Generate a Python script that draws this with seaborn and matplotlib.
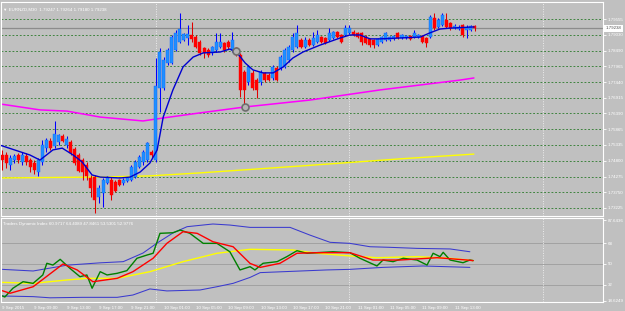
import matplotlib
matplotlib.use("Agg")
import matplotlib.pyplot as plt
import matplotlib.transforms as mtransforms
import numpy as np
import seaborn as sns

sns.set_style("white")
plt.rcParams["font.family"] = ["Liberation Sans", "DejaVu Sans"]

# ---------------- data ----------------
open_ = [1.7500,1.7500,1.7466,1.7483,1.7500,1.7477,1.7497,1.7483,1.7473,1.7443,
         1.7477,1.7523,1.7547,1.7530,1.7544,1.7564,1.7533,1.7544,1.7520,1.7500,
         1.7483,1.7466,1.7423,1.7426,1.7359,1.7373,1.7406,1.7416,1.7410,1.7416,
         1.7406,1.7413,1.7416,1.7426,1.7460,1.7477,1.7483,1.7510,1.7483,1.7724,
         1.7724,1.7808,1.7808,1.7852,1.7879,1.7885,1.7892,1.7902,1.7895,1.7879,
         1.7858,1.7852,1.7842,1.7852,1.7862,1.7875,1.7879,1.7852,1.7858,1.7835,
         1.7778,1.7745,1.7775,1.7751,1.7745,1.7775,1.7768,1.7758,1.7791,1.7791,
         1.7795,1.7818,1.7852,1.7862,1.7885,1.7862,1.7885,1.7868,1.7879,1.7895,
         1.7892,1.7885,1.7892,1.7912,1.7902,1.7902,1.7909,1.7912,1.7909,1.7909,
         1.7895,1.7889,1.7885,1.7868,1.7879,1.7885,1.7885,1.7889,1.7909,1.7892,
         1.7892,1.7899,1.7895,1.7895,1.7899,1.7892,1.7895,1.7959,1.7929,1.7935,
         1.7952,1.7942,1.7925,1.7922,1.7935,1.7919,1.7919,1.7932]
high = [1.7517,1.7510,1.7500,1.7503,1.7507,1.7510,1.7507,1.7490,1.7483,1.7490,
        1.7550,1.7557,1.7557,1.7614,1.7570,1.7570,1.7564,1.7550,1.7527,1.7507,
        1.7490,1.7477,1.7433,1.7433,1.7399,1.7423,1.7430,1.7426,1.7416,1.7420,
        1.7423,1.7426,1.7466,1.7483,1.7500,1.7517,1.7544,1.7517,1.7825,1.7858,
        1.7828,1.7858,1.7902,1.7919,1.7976,1.7909,1.7935,1.7946,1.7902,1.7885,
        1.7862,1.7858,1.7865,1.7909,1.7909,1.7879,1.7885,1.7912,1.7862,1.7842,
        1.7785,1.7801,1.7785,1.7758,1.7785,1.7778,1.7775,1.7801,1.7798,1.7835,
        1.7858,1.7868,1.7909,1.7935,1.7892,1.7895,1.7892,1.7912,1.7919,1.7899,
        1.7895,1.7925,1.7915,1.7915,1.7905,1.7935,1.7935,1.7919,1.7912,1.7912,
        1.7902,1.7892,1.7889,1.7892,1.7899,1.7912,1.7899,1.7902,1.7912,1.7905,
        1.7902,1.7902,1.7919,1.7905,1.7902,1.7895,1.7969,1.7976,1.7959,1.7976,
        1.7976,1.7946,1.7939,1.7935,1.7939,1.7935,1.7935,1.7935]
low = [1.7450,1.7456,1.7450,1.7473,1.7473,1.7466,1.7466,1.7443,1.7436,1.7430,
       1.7466,1.7510,1.7517,1.7523,1.7533,1.7544,1.7523,1.7500,1.7466,1.7443,
       1.7416,1.7416,1.7359,1.7306,1.7339,1.7326,1.7403,1.7349,1.7376,1.7396,
       1.7399,1.7410,1.7413,1.7423,1.7456,1.7466,1.7477,1.7490,1.7477,1.7644,
       1.7718,1.7801,1.7805,1.7848,1.7875,1.7882,1.7868,1.7879,1.7858,1.7835,
       1.7825,1.7828,1.7835,1.7845,1.7858,1.7845,1.7855,1.7845,1.7832,1.7694,
       1.7661,1.7734,1.7718,1.7691,1.7734,1.7745,1.7748,1.7751,1.7748,1.7785,
       1.7791,1.7812,1.7845,1.7858,1.7858,1.7858,1.7865,1.7865,1.7875,1.7875,
       1.7872,1.7882,1.7889,1.7892,1.7875,1.7899,1.7905,1.7899,1.7892,1.7868,
       1.7872,1.7862,1.7858,1.7865,1.7875,1.7882,1.7882,1.7885,1.7889,1.7889,
       1.7889,1.7885,1.7892,1.7892,1.7875,1.7862,1.7892,1.7919,1.7925,1.7932,
       1.7925,1.7919,1.7922,1.7919,1.7895,1.7892,1.7915,1.7915]
close = [1.7483,1.7473,1.7490,1.7497,1.7483,1.7500,1.7477,1.7460,1.7450,1.7483,
         1.7533,1.7550,1.7523,1.7570,1.7567,1.7547,1.7554,1.7507,1.7473,1.7446,
         1.7443,1.7430,1.7389,1.7349,1.7389,1.7416,1.7426,1.7366,1.7379,1.7399,
         1.7416,1.7423,1.7460,1.7477,1.7493,1.7510,1.7540,1.7500,1.7731,1.7845,
         1.7818,1.7852,1.7895,1.7909,1.7922,1.7905,1.7905,1.7889,1.7862,1.7842,
         1.7842,1.7835,1.7862,1.7879,1.7879,1.7852,1.7862,1.7885,1.7835,1.7718,
         1.7718,1.7795,1.7724,1.7718,1.7778,1.7751,1.7751,1.7795,1.7751,1.7828,
         1.7852,1.7862,1.7895,1.7909,1.7862,1.7885,1.7868,1.7892,1.7902,1.7879,
         1.7875,1.7909,1.7912,1.7895,1.7879,1.7925,1.7925,1.7902,1.7895,1.7879,
         1.7875,1.7868,1.7868,1.7889,1.7895,1.7909,1.7895,1.7899,1.7892,1.7902,
         1.7899,1.7889,1.7909,1.7902,1.7879,1.7875,1.7962,1.7925,1.7952,1.7969,
         1.7929,1.7925,1.7932,1.7929,1.7902,1.7925,1.7932,1.7925]

# moving averages on the price panel (bar index, price)
ma_fast_bar = [-0.5,6.9,9.4,12.6,14.9,17.6,19.8,22.3,24.3,29.2,31.7,34.2,36.6,38.4,39.9,
               42.3,44.8,47.3,49.8,54.0,56.4,58.2,60.2,62.1,64.6,67.1,69.6,72.0,74.5,
               78.7,83.7,86.1,88.6,91.1,93.6,98.5,103.5,105.9,108.4,110.9,116.8]
ma_fast = [1.7533,1.7500,1.7483,1.7517,1.7523,1.7500,1.7477,1.7433,1.7426,1.7423,
           1.7426,1.7443,1.7473,1.7517,1.7627,1.7718,1.7795,1.7828,1.7842,1.7845,
           1.7855,1.7842,1.7808,1.7785,1.7775,1.7775,1.7795,1.7825,1.7845,1.7868,
           1.7892,1.7902,1.7902,1.7889,1.7889,1.7892,1.7895,1.7909,1.7922,1.7925,1.7929]
ma_mid_bar = [-0.5,9.4,16.1,24.3,34.9,39.9,49.0,60.2,76.2,93.6,113.4,116.8]
ma_mid = [1.7671,1.7651,1.7647,1.7627,1.7614,1.7624,1.7641,1.7661,1.7684,1.7718,1.7751,1.7758]
ma_slow_bar = [-0.5,24.3,36.6,49.0,73.8,98.5,116.8]
ma_slow = [1.7423,1.7426,1.7430,1.7440,1.7463,1.7487,1.7503]
marker_bar = [57.8,60.2]
marker_price = [1.7848,1.7662]
last_price = 1.79238

price_ticks = [1.79555,1.79030,1.78490,1.77965,1.77440,1.76915,1.76390,
               1.75865,1.75335,1.74800,1.74275,1.73750,1.73225]
time_labels = ["9 Sep 2015","9 Sep 09:00","9 Sep 13:00","9 Sep 17:00","9 Sep 21:00",
               "10 Sep 01:00","10 Sep 05:00","10 Sep 09:00","10 Sep 13:00","10 Sep 17:00",
               "10 Sep 21:00","11 Sep 01:00","11 Sep 05:00","11 Sep 09:00","11 Sep 13:00"]
separator_bars = [38, 86, 134]

# Traders Dynamic Index (bar index, value)
tdi_up_bar = [-0.5,7.7,16.1,24.3,30.0,34.9,38.4,42.3,45.8,52.2,56.4,61.4,71.3,76.2,81.2,86.1,91.1,96.0,102.7,110.9,115.8]
tdi_up = [45.5,44.0,49.0,51.0,52.0,59.4,68.0,76.6,82.0,84.3,83.4,81.4,81.4,74.8,68.6,67.7,64.8,64.3,63.4,62.9,60.5]
tdi_lo_bar = [-0.5,7.7,11.9,20.0,28.5,32.4,36.6,40.8,49.0,53.2,57.2,61.4,63.9,80.4,86.1,94.3,104.2,115.8]
tdi_lo = [22.6,22.0,21.0,21.4,21.4,23.4,28.6,26.9,27.7,30.5,33.4,38.5,42.6,44.9,45.4,47.1,48.3,47.1]
tdi_base_bar = [-0.5,7.7,16.1,21.0,28.5,36.6,44.8,53.2,61.4,72.0,78.0,86.1,92.8,102.7,110.9,116.6]
tdi_base = [34.3,33.4,36.3,37.7,37.7,43.4,52.0,59.2,62.6,62.0,59.2,56.9,55.4,56.3,54.9,52.9]
tdi_sig_bar = [-0.5,2.0,7.7,15.1,18.6,22.5,28.5,32.4,37.4,40.8,44.8,48.3,52.2,57.2,61.4,63.9,
               68.8,73.0,78.0,86.1,91.8,98.5,107.7,115.1,116.6]
tdi_sig = [27.7,24.9,30.5,50.0,44.9,34.8,37.7,43.4,54.9,67.7,77.7,76.3,69.1,64.8,50.5,47.1,
           50.6,59.2,59.7,59.7,53.4,53.4,55.4,53.4,52.9]
tdi_rsi_bar = [-0.5,0.7,2.7,5.2,7.7,10.1,11.1,12.6,14.4,16.8,19.3,21.0,22.3,24.3,26.0,28.5,
               30.9,33.4,35.9,37.4,39.1,42.3,44.1,46.5,49.8,53.2,56.4,58.9,61.4,62.6,64.6,
               68.1,70.5,73.0,75.5,81.9,86.1,88.6,92.8,94.3,96.8,99.3,102.7,105.2,106.7,
               108.4,109.2,110.9,114.1,115.8,116.6]
tdi_rsi = [23.4,21.7,29.2,34.8,33.4,40.6,50.6,49.1,54.0,46.3,39.1,40.6,29.2,43.4,40.6,42.0,
           44.3,54.9,57.7,59.2,76.3,76.8,79.1,76.3,67.7,67.7,60.5,44.9,47.7,44.9,50.6,
           52.0,56.3,61.4,59.2,60.5,59.7,54.9,48.3,53.4,52.0,54.9,53.4,49.1,59.2,
           56.3,60.0,53.4,51.1,53.4,52.9]
tdi_levels = [68, 50, 32]
tdi_ticks = [87.6436, 68, 50, 32, 18.6249]
tdi_tick_labels = ["87.6436", "68", "50", "32", "18.6249"]

# ---------------- figure ----------------
BG = "#C0C0C0"
W, H = 625, 311
fig = plt.figure(figsize=(W / 100, H / 100), dpi=100, facecolor=BG)
ax = fig.add_axes([1 / W, 1 - 216 / H, 602 / W, 214 / H])
ax2 = fig.add_axes([1 / W, 1 - 302 / H, 602 / W, 84 / H], sharex=ax)
for a in (ax, ax2):
    a.set_facecolor(BG)
    for s in a.spines.values():
        s.set_color("white")
        s.set_linewidth(0.8)

ax.set_xlim(-0.25, 148.75)
ax.set_ylim(1.72956, 1.80125)
ax2.set_ylim(17.4, 89.45)

# grid
for p in price_ticks:
    ax.axhline(p, color="#2A7A2A", lw=0.6, ls=(0, (2.2, 2.2)), zorder=1)
for v in tdi_levels:
    ax2.axhline(v, color="#7A7A7A", lw=0.6, ls=(0, (1.2, 1.2)), zorder=1)
for b in separator_bars:
    for a in (ax, ax2):
        a.axvline(b, color="#EDEDED", lw=0.7, ls=(0, (1, 1.5)), zorder=1)

ax.axhline(last_price, color="#8C8C8C", lw=0.9, zorder=1.5)

# moving averages
sns.lineplot(x=ma_mid_bar, y=ma_mid, ax=ax, color="#FF00FF", lw=1.1, sort=False, estimator=None, zorder=2)
sns.lineplot(x=ma_slow_bar, y=ma_slow, ax=ax, color="#FFFF00", lw=1.0, sort=False, estimator=None, zorder=2)

# candles
idx = np.arange(len(close))
o = np.array(open_); c = np.array(close); h = np.array(high); l = np.array(low)
up = c >= o
ax.vlines(idx[up], l[up], h[up], color="#0000FF", lw=0.75, zorder=3)
ax.vlines(idx[~up], l[~up], h[~up], color="#E00000", lw=0.75, zorder=3)
body_bottom = np.minimum(o, c)
body_h = np.maximum(np.abs(c - o), 0.00025)
ax.bar(idx[up], body_h[up], bottom=body_bottom[up], width=0.75, color="#1E90FF",
       edgecolor="#1060FF", linewidth=0.3, zorder=4)
ax.bar(idx[~up], body_h[~up], bottom=body_bottom[~up], width=0.75, color="#FF0000",
       edgecolor="#FF0000", linewidth=0.3, zorder=4)

sns.lineplot(x=ma_fast_bar, y=ma_fast, ax=ax, color="#0000D0", lw=1.0, sort=False, estimator=None, zorder=5)
ax.plot(marker_bar, marker_price, ls="none", marker="o", ms=5, mfc="#B4B4B4",
        mec="#6E6E6E", mew=1.2, zorder=6)

# TDI
sns.lineplot(x=tdi_up_bar, y=tdi_up, ax=ax2, color="#3A3ACF", lw=0.75, sort=False, estimator=None)
sns.lineplot(x=tdi_lo_bar, y=tdi_lo, ax=ax2, color="#3A3ACF", lw=0.75, sort=False, estimator=None)
sns.lineplot(x=tdi_base_bar, y=tdi_base, ax=ax2, color="#FFFF00", lw=1.0, sort=False, estimator=None)
sns.lineplot(x=tdi_rsi_bar, y=tdi_rsi, ax=ax2, color="#008000", lw=1.0, sort=False, estimator=None)
sns.lineplot(x=tdi_sig_bar, y=tdi_sig, ax=ax2, color="#FF0000", lw=1.0, sort=False, estimator=None)

# axes / ticks
FS = 3.2
ax.yaxis.tick_right()
ax.set_yticks(price_ticks)
ax.set_yticklabels([f"{p:.5f}" for p in price_ticks])
ax.tick_params(axis="y", length=2, width=0.6, color="white", labelcolor="white",
               labelsize=FS, pad=1.5)
ax.tick_params(axis="x", bottom=False, labelbottom=False)
ax.set_xlabel(""); ax.set_ylabel("")

ax2.yaxis.tick_right()
ax2.set_yticks(tdi_ticks)
ax2.set_yticklabels(tdi_tick_labels)
ax2.tick_params(axis="y", length=2, width=0.6, color="white", labelcolor="white",
                labelsize=FS, pad=1.5)
ax2.set_xticks(np.arange(0, 8 * len(time_labels), 8))
ax2.set_xticklabels(time_labels, ha="left")
ax2.tick_params(axis="x", length=2, width=0.6, color="white", labelcolor="white",
                labelsize=FS, pad=1)
ax2.set_xlabel(""); ax2.set_ylabel("")
ax.set_xlim(-0.25, 148.75)

# current price tag
tr = mtransforms.blended_transform_factory(ax.transAxes, ax.transData)
ax.text(1.004, last_price, f"{last_price:.5f}", transform=tr, ha="left", va="center",
        fontsize=FS, color="#505050",
        bbox=dict(boxstyle="square,pad=0.35", fc="white", ec="none"), zorder=10, clip_on=False)

# titles
ax.text(0.004, 0.975, "\u25bc EURNZD,M30  1.79247 1.79264 1.79180 1.79238",
        transform=ax.transAxes, ha="left", va="top", fontsize=FS, color="white")
ax2.text(0.004, 0.95, "Traders Dynamic Index 60.9717 64.4089 47.8461 53.5301 52.9776",
         transform=ax2.transAxes, ha="left", va="top", fontsize=FS, color="white")

fig.savefig("out.png", dpi=100, facecolor=BG)
